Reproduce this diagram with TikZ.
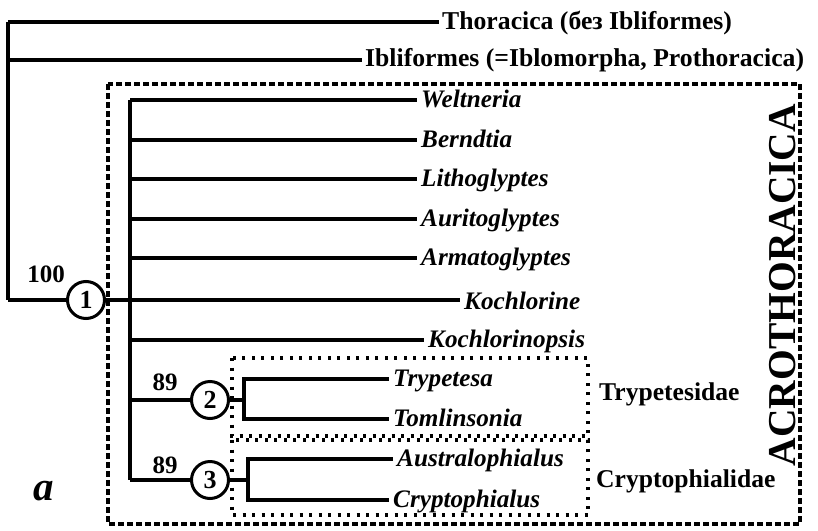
\documentclass[tikz,border=0pt]{standalone}
\usepackage{fontspec}
\setmainfont{LiberationSerif}[Extension=.ttf,UprightFont=*-Regular,BoldFont=*-Bold,ItalicFont=*-Italic,BoldItalicFont=*-BoldItalic]
\begin{document}
\begin{tikzpicture}[x=1pt,y=-1pt,
 br/.style={line width=4pt},
 leaf/.style={anchor=base west,inner xsep=4pt,inner ysep=0pt,font=\fontsize{25.2}{28}\selectfont\bfseries\itshape},
 hdr/.style={anchor=base west,inner xsep=3pt,inner ysep=0pt,font=\fontsize{25.7}{30}\selectfont\bfseries},
 fam/.style={anchor=base west,inner sep=0pt,font=\fontsize{25.6}{30}\selectfont\bfseries},
 cnode/.style={circle,draw,line width=3pt,minimum size=37pt,inner sep=0pt,fill=white,font=\fontsize{26}{28}\selectfont\bfseries},
 supp/.style={anchor=base,inner sep=0pt,font=\fontsize{25}{28}\selectfont\bfseries},
 outerbox/.style={line width=3.5pt,dash pattern=on 6pt off 3pt},
 famfr/.style={line width=3.5pt,dash pattern=on 3pt off 6.5pt}
]
\useasboundingbox (0,0) rectangle (818,530);

% outer dashed box and family boxes
\draw[outerbox] (108,84) rectangle (800,524);
\draw[famfr] (232,358) rectangle (588,436);
\draw[famfr] (232,440) rectangle (588,515);

% root
\coordinate (r0) at (8,22);
\coordinate (r1) at (8,60);
\coordinate (r2) at (8,300);
\node[hdr] (thor) at (439,29) {Thoracica (без Ibliformes)};
\node[hdr] (ibl) at (362,66) {Ibliformes (=Iblomorpha, Prothoracica)};
\draw[br] (r0) -- (thor.west |- r0);
\draw[br] (r1) -- (ibl.west |- r1);
\draw[br] (r0) -- (r2);

% node 1
\node[cnode] (c1) at (86,300) {1};
\node[supp] (s1) at (46,282) {100};
\draw[br] (r2) -- (c1);

% Acrothoracica backbone
\coordinate (a0) at (130,100);
\coordinate (a6) at (130,300);
\coordinate (a7) at (130,340);
\coordinate (a8) at (130,400);
\coordinate (a9) at (130,480);
\draw[br] (c1) -- (a6);
\draw[br] (a0) -- (a9);

\node[leaf] (weltneria) at (417,107) {Weltneria};
\node[leaf] (berndtia) at (417,147) {Berndtia};
\node[leaf] (litho) at (417,186) {Lithoglyptes};
\node[leaf] (auri) at (417,226) {Auritoglyptes};
\node[leaf] (arma) at (417,265) {Armatoglyptes};
\node[leaf] (kochl) at (460,309) {Kochlorine};
\node[leaf] (kochlp) at (424,347) {Kochlorinopsis};

\draw[br] (a0) -- (weltneria.west |- a0);
\draw[br] (130,140) coordinate (a1) -- (berndtia.west |- a1);
\draw[br] (130,179) coordinate (a2) -- (litho.west |- a2);
\draw[br] (130,219) coordinate (a3) -- (auri.west |- a3);
\draw[br] (130,258) coordinate (a4) -- (arma.west |- a4);
\draw[br] (a6) -- (kochl.west |- a6);
\draw[br] (a7) -- (kochlp.west |- a7);

% node 2 : Trypetesidae
\node[cnode] (c2) at (210,400) {2};
\node[supp] (s2) at (165,390) {89};
\draw[br] (a8) -- (c2);
\coordinate (t0) at (244,379);
\coordinate (t1) at (244,419);
\coordinate (t2) at (244,400);
\node[leaf] (tryp) at (389,386) {Trypetesa};
\node[leaf] (toml) at (389,426) {Tomlinsonia};
\draw[br] (c2) -- (t2);
\draw[br] (tryp.west |- t0) -- (t0) -- (t1) -- (toml.west |- t1);

% node 3 : Cryptophialidae
\node[cnode] (c3) at (210,480) {3};
\node[supp] (s3) at (165,473) {89};
\draw[br] (a9) -- (c3);
\coordinate (u0) at (248,459);
\coordinate (u1) at (248,500);
\coordinate (u2) at (248,480);
\node[leaf] (austr) at (393,466) {Australophialus};
\node[leaf] (crypt) at (389,507) {Cryptophialus};
\draw[br] (c3) -- (u2);
\draw[br] (austr.west |- u0) -- (u0) -- (u1) -- (crypt.west |- u1);

% family labels
\node[fam] (trypfam) at (599,400) {Trypetesidae};
\node[fam] (cryptfam) at (596,487) {Cryptophialidae};

% big label
\node[rotate=90,inner sep=0pt,font=\fontsize{39.5}{42}\selectfont\bfseries] (acro) at (783,285) {ACROTHORACICA};

% panel letter
\node[anchor=base,inner sep=0pt,font=\fontsize{41}{44}\selectfont\bfseries\itshape] (pa) at (44,500) {a};
\end{tikzpicture}
\end{document}
